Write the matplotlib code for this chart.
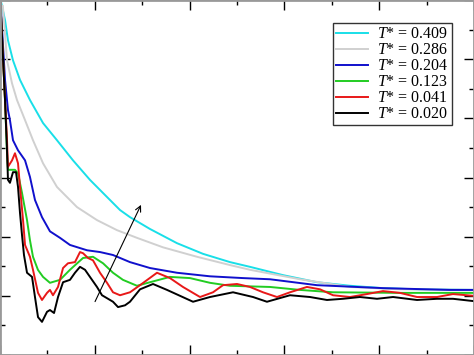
import matplotlib
matplotlib.use("Agg")
import matplotlib.pyplot as plt
from matplotlib.ticker import MultipleLocator

plt.rcParams["mathtext.fontset"] = "custom"
plt.rcParams["mathtext.rm"] = "Liberation Serif"
plt.rcParams["mathtext.it"] = "Liberation Serif:italic"
plt.rcParams["font.family"] = "Liberation Serif"

# ─── data ────────────────────────────────────────────────────────────────────
x_cyan = [0.0, 0.053, 0.084, 0.137, 0.211, 0.316, 0.454, 0.601, 0.770, 0.949,
          1.129, 1.266, 1.371, 1.582, 1.867, 2.141, 2.426, 2.637, 2.985, 3.344,
          3.692, 4.040, 4.399, 5.0]
y_cyan = [6.05, 5.66, 5.32, 4.98, 4.65, 4.31, 3.92, 3.63, 3.29, 2.96,
          2.67, 2.45, 2.33, 2.13, 1.89, 1.71, 1.57, 1.49, 1.35, 1.23,
          1.17, 1.13, 1.11, 1.10]

x_gray = [0.03, 0.074, 0.127, 0.179, 0.264, 0.348, 0.454, 0.601, 0.812, 1.023,
          1.234, 1.445, 1.719, 2.078, 2.426, 2.637, 3.165, 3.692, 4.219, 5.0]
y_gray = [5.9, 4.98, 4.59, 4.31, 3.97, 3.63, 3.24, 2.84, 2.50, 2.28,
          2.11, 1.98, 1.82, 1.66, 1.52, 1.44, 1.28, 1.15, 1.11, 1.10]

x_blue = [0.0, 0.053, 0.084, 0.105, 0.137, 0.190, 0.264, 0.316, 0.369, 0.443,
          0.527, 0.633, 0.738, 0.918, 1.055, 1.192, 1.371, 1.582, 1.867, 2.215,
          2.563, 2.848, 3.344, 4.040, 4.747, 5.0]
y_blue = [6.1, 4.65, 4.14, 3.97, 3.63, 3.46, 3.29, 3.01, 2.62, 2.33,
          2.09, 1.98, 1.86, 1.77, 1.74, 1.69, 1.57, 1.47, 1.39, 1.33,
          1.30, 1.28, 1.18, 1.13, 1.10, 1.10]

x_green = [0.0, 0.053, 0.074, 0.084, 0.158, 0.190, 0.232, 0.285, 0.316, 0.348,
           0.40, 0.454, 0.527, 0.633, 0.738, 0.876, 0.981, 1.087, 1.192, 1.297,
           1.445, 1.582, 1.793, 2.004, 2.215, 2.426, 2.848, 3.165, 3.513, 4.219,
           5.0]
y_green = [6.1, 4.31, 3.41, 3.13, 3.13, 3.07, 2.74, 2.28, 1.94, 1.66,
           1.44, 1.32, 1.22, 1.27, 1.44, 1.64, 1.66, 1.55, 1.39, 1.27,
           1.17, 1.23, 1.32, 1.30, 1.22, 1.17, 1.15, 1.10, 1.06, 1.05,
           1.05]

x_red = [0.0, 0.053, 0.074, 0.084, 0.127, 0.158, 0.190, 0.211, 0.243, 0.264,
         0.316, 0.348, 0.401, 0.443, 0.496, 0.527, 0.559, 0.612, 0.665, 0.717,
         0.791, 0.844, 0.876, 0.928, 0.981, 1.055, 1.129, 1.192, 1.266, 1.371,
         1.477, 1.656, 1.793, 1.930, 2.110, 2.247, 2.352, 2.500, 2.637, 2.774,
         2.922, 3.059, 3.238, 3.376, 3.513, 3.692, 3.871, 4.040, 4.219, 4.399,
         4.610, 4.778, 5.0]
y_red = [6.1, 4.31, 3.63, 3.18, 3.29, 3.41, 3.24, 2.84, 2.28, 1.86,
         1.66, 1.44, 1.05, 0.93, 1.05, 1.10, 1.01, 1.15, 1.47, 1.55,
         1.57, 1.74, 1.72, 1.64, 1.60, 1.39, 1.22, 1.06, 1.01, 1.06,
         1.18, 1.39, 1.30, 1.15, 0.98, 1.06, 1.18, 1.20, 1.15, 1.06,
         0.98, 1.06, 1.15, 1.11, 1.01, 0.98, 1.03, 1.08, 1.05, 0.98,
         0.98, 1.03, 1.00]

x_black = [0.0, 0.053, 0.074, 0.084, 0.105, 0.137, 0.169, 0.190, 0.211, 0.232,
           0.253, 0.285, 0.338, 0.369, 0.401, 0.443, 0.496, 0.527, 0.570, 0.612,
           0.665, 0.738, 0.791, 0.844, 0.897, 0.949, 1.023, 1.076, 1.129, 1.192,
           1.245, 1.319, 1.371, 1.477, 1.614, 1.762, 1.899, 2.036, 2.215, 2.458,
           2.669, 2.816, 3.059, 3.270, 3.449, 3.618, 3.797, 3.977, 4.146, 4.399,
           4.610, 4.778, 5.0]
y_black = [6.1, 4.31, 3.46, 2.96, 2.91, 3.09, 3.09, 2.84, 2.40, 2.03,
           1.69, 1.39, 1.32, 0.98, 0.64, 0.56, 0.73, 0.76, 0.71, 0.98,
           1.23, 1.27, 1.39, 1.49, 1.44, 1.32, 1.15, 1.01, 0.96, 0.90,
           0.81, 0.84, 0.90, 1.11, 1.20, 1.10, 1.00, 0.90, 0.98, 1.06,
           0.98, 0.90, 1.01, 0.98, 0.93, 0.95, 0.98, 0.95, 0.98, 0.93,
           0.95, 0.95, 0.91]

labels = ["0.409", "0.286", "0.204", "0.123", "0.041", "0.020"]
colors = ["#19dfe8", "#d0d0d0", "#1010cc", "#22cc22", "#e81818", "black"]

# ─── plot ────────────────────────────────────────────────────────────────────
fig = plt.figure(figsize=(4.74, 3.55), dpi=100)
ax = fig.add_axes([0, 0, 1, 1])

series = [(x_cyan, y_cyan), (x_gray, y_gray), (x_blue, y_blue),
          (x_green, y_green), (x_red, y_red), (x_black, y_black)]
for (xs, ys), lab, c in zip(series, labels, colors):
    ax.plot(xs, ys, color=c, lw=1.4, label=r"$T$* = " + lab)

ax.annotate("", xy=(1.50, 2.58), xytext=(0.99, 0.86),
            arrowprops=dict(arrowstyle="->", color="black", lw=0.8))

ax.set_xlim(0, 5)
ax.set_ylim(0, 6)
ax.xaxis.set_major_locator(MultipleLocator(1))
ax.xaxis.set_minor_locator(MultipleLocator(0.5))
ax.yaxis.set_major_locator(MultipleLocator(1))
ax.yaxis.set_minor_locator(MultipleLocator(0.5))
ax.tick_params(which="both", direction="in", top=True, right=True,
               labelbottom=False, labelleft=False, width=1)
ax.tick_params(which="major", length=7)
ax.tick_params(which="minor", length=3.5)
for s in ax.spines.values():
    s.set_color("#999999")
    s.set_linewidth(2)

leg = ax.legend(loc="upper right", bbox_to_anchor=(0.954, 0.935),
                fontsize=11.5, frameon=True, fancybox=False,
                edgecolor="black", handlelength=2.0, handletextpad=0.6,
                labelspacing=0.0, borderpad=0.2, borderaxespad=0)
leg.get_frame().set_linewidth(1.0)

fig.savefig("out.png", dpi=100)
